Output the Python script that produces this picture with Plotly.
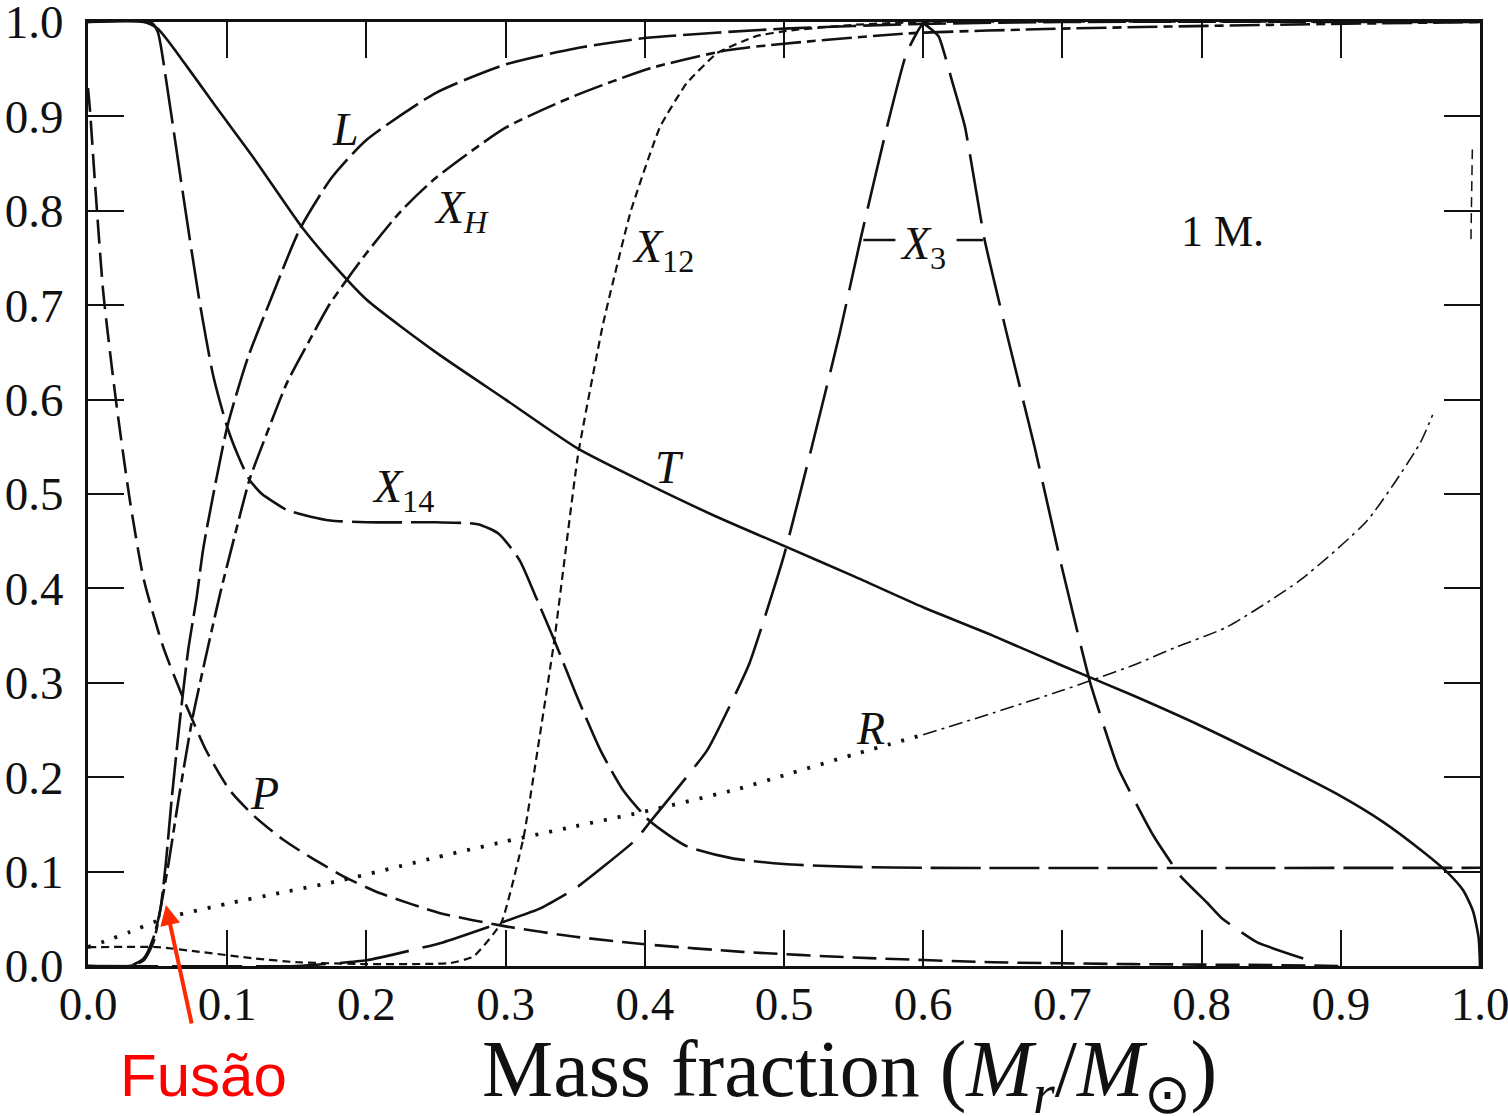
import plotly.graph_objects as go

# ---------------- data ----------------
x_ticks = [0.0, 0.1, 0.2, 0.3, 0.4, 0.5, 0.6, 0.7, 0.8, 0.9, 1.0]
tick_text = ["0.0", "0.1", "0.2", "0.3", "0.4", "0.5", "0.6", "0.7", "0.8", "0.9", "1.0"]

T_x = [0, 0.04, 0.05, 0.071, 0.093, 0.119, 0.154, 0.175, 0.2, 0.25, 0.3, 0.352, 0.4, 0.45, 0.5,
       0.55, 0.6, 0.65, 0.7, 0.75, 0.8, 0.85, 0.9, 0.93, 0.96, 0.976, 0.988, 0.995, 0.999, 1.0]
T_y = [1.0, 1.0, 0.993, 0.953, 0.908, 0.856, 0.782, 0.745, 0.706, 0.65, 0.6, 0.548, 0.512, 0.477,
       0.445, 0.413, 0.38, 0.35, 0.318, 0.287, 0.254, 0.218, 0.18, 0.153, 0.12, 0.10, 0.08, 0.058,
       0.03, 0.0]

L_x = [0, 0.03, 0.04, 0.047, 0.052, 0.056, 0.06, 0.066, 0.072, 0.078, 0.083, 0.1, 0.115, 0.131,
       0.152, 0.175, 0.2, 0.25, 0.3, 0.35, 0.4, 0.5, 0.6, 0.7, 1.0]
L_y = [0, 0, 0.008, 0.03, 0.06, 0.11, 0.175, 0.26, 0.335, 0.39, 0.444, 0.571, 0.645, 0.705,
       0.78, 0.835, 0.875, 0.925, 0.955, 0.972, 0.983, 0.993, 0.998, 1.0, 1.0]

XH_x = [0, 0.03, 0.04, 0.047, 0.052, 0.058, 0.065, 0.075, 0.085, 0.095, 0.107, 0.116, 0.13, 0.143,
        0.16, 0.174, 0.2, 0.225, 0.25, 0.3, 0.35, 0.404, 0.459, 0.5, 0.59, 0.7, 0.85, 1.0]
XH_y = [0, 0, 0.006, 0.025, 0.06, 0.11, 0.176, 0.262, 0.33, 0.395, 0.465, 0.515, 0.57, 0.618,
        0.665, 0.702, 0.755, 0.80, 0.835, 0.888, 0.922, 0.951, 0.97, 0.977, 0.988, 0.993, 0.997, 1.0]

X14_x = [0, 0.045, 0.05, 0.057, 0.067, 0.08, 0.09, 0.1, 0.108, 0.116, 0.125, 0.135, 0.143, 0.16,
         0.174, 0.2, 0.25, 0.28, 0.295, 0.31, 0.322, 0.335, 0.35, 0.368, 0.385, 0.404, 0.43, 0.463,
         0.5, 0.55, 0.6, 1.0]
X14_y = [1.0, 1.0, 0.99, 0.93, 0.83, 0.705, 0.625, 0.571, 0.54, 0.515, 0.5, 0.49, 0.483, 0.476,
         0.472, 0.47, 0.47, 0.468, 0.458, 0.43, 0.39, 0.345, 0.29, 0.229, 0.185, 0.153, 0.127, 0.114,
         0.108, 0.105, 0.104, 0.104]

X3_x = [0, 0.15, 0.2, 0.255, 0.297, 0.325, 0.35, 0.393, 0.404, 0.445, 0.475, 0.5, 0.52, 0.54, 0.555,
        0.574, 0.588, 0.6, 0.611, 0.621, 0.63, 0.644, 0.66, 0.68, 0.7, 0.72, 0.74, 0.765, 0.785,
        0.804, 0.815, 0.84, 0.873]
X3_y = [0, 0.0, 0.006, 0.025, 0.046, 0.061, 0.082, 0.133, 0.153, 0.229, 0.32, 0.435, 0.55, 0.67, 0.77,
        0.889, 0.967, 0.998, 0.985, 0.936, 0.889, 0.77, 0.67, 0.55, 0.42, 0.30, 0.21, 0.139, 0.095,
        0.067, 0.05, 0.025, 0.008]

X12_x = [0, 0.05, 0.08, 0.12, 0.15, 0.2, 0.26, 0.277, 0.297, 0.313, 0.323, 0.335, 0.352, 0.37, 0.39,
         0.411, 0.43, 0.452, 0.48, 0.504, 0.55, 0.6, 1.0]
X12_y = [0.02, 0.02, 0.015, 0.008, 0.004, 0.002, 0.003, 0.01, 0.046, 0.137, 0.229, 0.345, 0.541, 0.68,
         0.8, 0.889, 0.935, 0.967, 0.985, 0.991, 0.997, 1.0, 1.0]

P_x = [0, 0.0014, 0.005, 0.011, 0.02, 0.03, 0.04, 0.054, 0.068, 0.085, 0.102, 0.12, 0.14, 0.16,
       0.186, 0.21, 0.253, 0.3, 0.35, 0.4, 0.47, 0.55, 0.65, 0.75, 0.85, 0.9]
P_y = [0.93, 0.907, 0.83, 0.713, 0.6, 0.494, 0.41, 0.338, 0.285, 0.228, 0.186, 0.158, 0.134, 0.115,
       0.093, 0.077, 0.056, 0.042, 0.031, 0.023, 0.015, 0.009, 0.004, 0.002, 0.001, 0.0]

R_x = [0, 0.0136, 0.03, 0.054, 0.1, 0.14, 0.183, 0.25, 0.3, 0.35, 0.404, 0.468, 0.5, 0.55, 0.6,
       0.65, 0.7, 0.75, 0.782, 0.818, 0.871, 0.919, 0.957, 0.966]
R_y = [0.02, 0.027, 0.036, 0.05, 0.066, 0.078, 0.091, 0.115, 0.132, 0.148, 0.165, 0.188, 0.202, 0.224,
       0.245, 0.268, 0.292, 0.318, 0.338, 0.359, 0.409, 0.472, 0.554, 0.584]
R_style_change = 0.6          # dotted before, dash-dot after
R_edge_x = [0.9935, 0.9945]
R_edge_y = [0.77, 0.865]

SERIF = "Liberation Serif, Times New Roman, serif"
BLACK = "#111111"

fig = go.Figure()


def add_curve(xs, ys, dash, width=2.6, smoothing=0.6):
    fig.add_trace(go.Scatter(
        x=xs, y=ys, mode="lines",
        line=dict(color=BLACK, width=width, dash=dash, shape="spline", smoothing=smoothing),
        hoverinfo="skip"))


add_curve(T_x, T_y, "solid")
add_curve(L_x, L_y, "38px,7px")
add_curve(XH_x, XH_y, "30px,6px,9px,6px")
add_curve(X14_x, X14_y, "50px,9px")
add_curve(X3_x, X3_y, "70px,14px", smoothing=0.4)
add_curve(X12_x, X12_y, "8px,5px", width=2.2, smoothing=0.4)
add_curve(P_x, P_y, "24px,9px")

R1x = [x for x in R_x if x <= R_style_change]
R1y = [y for x, y in zip(R_x, R_y) if x <= R_style_change]
R2x = [x for x in R_x if x >= R_style_change]
R2y = [y for x, y in zip(R_x, R_y) if x >= R_style_change]
add_curve(R1x, R1y, "3px,11px", width=3.8)
add_curve(R2x, R2y, "14px,5px,3px,5px", width=1.6)
add_curve(R_edge_x, R_edge_y, "10px,6px", width=1.5)

# ---------------- curve labels ----------------
lab_font = dict(family=SERIF, size=46, color=BLACK)
labels = [
    (0.185, 0.886, "<i>L</i>"),
    (0.268, 0.80, "<i>X<sub>H</sub></i>"),
    (0.413, 0.758, "<i>X</i><sub>12</sub>"),
    (0.600, 0.762, "<i>X</i><sub>3</sub>"),
    (0.418, 0.528, "<i>T</i>"),
    (0.226, 0.504, "<i>X</i><sub>14</sub>"),
    (0.562, 0.252, "<i>R</i>"),
    (0.127, 0.183, "<i>P</i>"),
]
for lx, ly, txt in labels:
    fig.add_annotation(x=lx, y=ly, xref="x", yref="y", text=txt, showarrow=False,
                       font=lab_font, xanchor="center", yanchor="middle")

fig.add_annotation(x=0.815, y=0.778, xref="x", yref="y", text="1 M.", showarrow=False,
                   font=dict(family=SERIF, size=44, color=BLACK), xanchor="center", yanchor="middle")

# bracket stubs linking the X3 label to its curve
for x0, x1 in [(0.557, 0.580), (0.624, 0.643)]:
    fig.add_shape(type="line", xref="x", yref="y", x0=x0, x1=x1, y0=0.769, y1=0.769,
                  line=dict(color=BLACK, width=2.5))

# ---------------- red "Fusão" callout ----------------
fig.add_annotation(x=0.056, y=0.0646, xref="x", yref="y", text="", showarrow=True,
                   ax=26, ay=120, arrowhead=2, arrowsize=1.0, arrowwidth=4,
                   arrowcolor="#ff2a00")
fig.add_annotation(x=0.083, y=-0.1155, xref="x", yref="paper", text="Fusão", showarrow=False,
                   font=dict(family="Liberation Sans, Arial, sans-serif", size=60, color="#ff0000"),
                   xanchor="center", yanchor="middle")

# ---------------- x axis title (placed as in the reference) ----------------
fig.add_annotation(x=0.547, y=-0.1155, xref="paper", yref="paper",
                   text="Mass fraction (<i>M<sub>r</sub></i>/<i>M</i><sub>⊙</sub>)",
                   showarrow=False, xanchor="center", yanchor="middle",
                   font=dict(family=SERIF, size=80, color=BLACK))

axis_common = dict(
    range=[0, 1], tickvals=x_ticks, ticktext=tick_text,
    ticks="inside", ticklen=36, tickwidth=2, tickcolor=BLACK,
    showline=True, linewidth=3, linecolor=BLACK, mirror="ticks",
    showgrid=False, zeroline=False, ticklabeloverflow="allow", automargin=False,
    tickfont=dict(family=SERIF, size=47, color=BLACK),
)

fig.update_layout(
    width=1508, height=1116,
    margin=dict(l=88, r=28, t=22, b=150, autoexpand=False),
    paper_bgcolor="white", plot_bgcolor="white",
    showlegend=False,
    xaxis=dict(**axis_common, ticklabelstandoff=-5),
    yaxis=dict(**axis_common, ticklabelstandoff=12),
)

fig.write_html("out.html")
